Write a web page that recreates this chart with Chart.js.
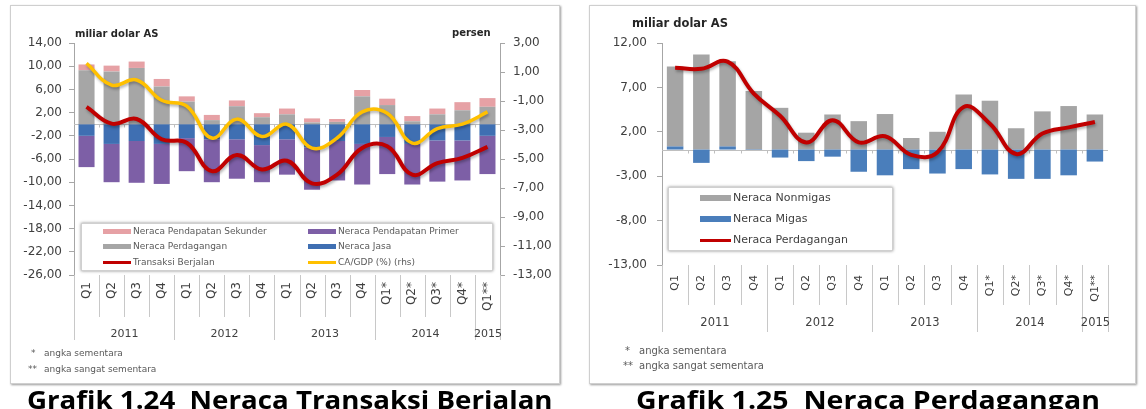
<!DOCTYPE html>
<html>
<head>
<meta charset="utf-8">
<script src="https://cdn.jsdelivr.net/npm/chart.js@4.4.1/dist/chart.umd.min.js"></script>
<style>
  body { margin: 0; width: 1146px; height: 409px; overflow: hidden; background: #fff; position: relative; font-family: 'DejaVu Sans', sans-serif; }
  .frame { position: absolute; border: 1px solid #cfcfcf; box-shadow: 1px 1px 2px #9a9a9a; background: #fff; }
  canvas { position: absolute; }
  .unit { position: absolute; font-weight: bold; color: #262626; white-space: nowrap; }
  .legend { position: absolute; border: 1px solid #d0d0d0; box-shadow: 0 0 3px #8c8c8c; background: #fff; }
  .sw { position: absolute; }
  .item { position: absolute; white-space: nowrap; }
  .note { position: absolute; color: #595959; white-space: nowrap; }
  .title { position: absolute; font-family: 'Open Sans', sans-serif; font-weight: bold; font-size: 25px; line-height: 25px; color: #000; white-space: nowrap; transform-origin: 0 0; }
</style>
</head>
<body>

<div class="frame" style="left:10px; top:5px; width:548px; height:377px;"></div>
<div class="frame" style="left:589px; top:5px; width:545px; height:377px;"></div>

<canvas id="grafik124" width="550" height="379" style="left:10px; top:5px;"></canvas>
<canvas id="grafik125" width="547" height="379" style="left:589px; top:5px;"></canvas>

<div class="unit" style="left:75px; top:28px; font-size:10px; line-height:12px;">miliar dolar AS</div>
<div class="unit" style="left:452px; top:27px; font-size:10px; line-height:12px;">persen</div>
<div class="unit" style="left:632px; top:16px; font-size:11.5px; line-height:14px;">miliar dolar AS</div>

<div class="legend" id="legenda124" style="left:81px; top:223px; width:410px; height:46px;"></div>
<div class="legend" id="legenda125" style="left:668px; top:187px; width:223px; height:62px;"></div>

<div class="note" style="left:31px; top:348px; font-size:9px; line-height:11px;">*</div>
<div class="note" style="left:44px; top:348px; font-size:9px; line-height:11px;">angka sementara</div>
<div class="note" style="left:28px; top:364px; font-size:9px; line-height:11px;">**</div>
<div class="note" style="left:44px; top:364px; font-size:9px; line-height:11px;">angka sangat sementara</div>

<div class="note" style="left:625px; top:345px; font-size:10px; line-height:12px;">*</div>
<div class="note" style="left:639px; top:345px; font-size:10px; line-height:12px;">angka sementara</div>
<div class="note" style="left:623px; top:360px; font-size:10px; line-height:12px;">**</div>
<div class="note" style="left:639px; top:360px; font-size:10px; line-height:12px;">angka sangat sementara</div>

<div class="title" data-w="526" style="left:27px; top:387px;">Grafik 1.24&nbsp;&nbsp;Neraca Transaksi Berjalan</div>
<div class="title" data-w="464" style="left:636px; top:387px;">Grafik 1.25&nbsp;&nbsp;Neraca Perdagangan</div>

<script>
// kategori
const kuartal = ['Q1', 'Q2', 'Q3', 'Q4', 'Q1', 'Q2', 'Q3', 'Q4', 'Q1', 'Q2', 'Q3', 'Q4', 'Q1*', 'Q2*', 'Q3*', 'Q4*', 'Q1**'];
const tahun = ['2011', '2012', '2013', '2014', '2015'];
const jumlahKuartal = [4, 4, 4, 4, 1];

// Grafik 1.24 (miliar dolar AS, CA/GDP dalam persen)
const pendapatanSekunder = [1.0, 1.0, 1.1, 1.3, 0.9, 0.9, 1.0, 0.7, 1.0, 0.7, 0.5, 1.1, 1.1, 0.9, 1.0, 1.4, 1.5];
const perdagangan = [9.3, 9.1, 9.7, 6.5, 3.9, 0.7, 3.1, 1.2, 1.7, 0.3, 0.4, 4.8, 3.3, 0.5, 1.7, 2.4, 3.0];
const jasa = [-2.0, -3.4, -2.9, -3.4, -2.4, -2.6, -2.6, -3.6, -2.6, -4.0, -2.9, -3.4, -2.2, -3.4, -2.8, -2.8, -2.0];
const pendapatanPrimer = [-5.4, -6.6, -7.2, -6.9, -5.7, -7.4, -6.8, -6.4, -6.1, -7.3, -6.8, -7.0, -6.4, -7.0, -7.1, -6.9, -6.6];
const transaksiBerjalan = [3.0, 0.1, 0.9, -2.6, -3.2, -8.1, -5.3, -7.8, -6.3, -10.2, -8.7, -4.1, -3.8, -8.7, -6.7, -5.8, -3.9];
const caGdp = [1.6, 0.1, 0.45, -0.95, -1.35, -3.55, -2.25, -3.45, -2.6, -4.25, -3.55, -1.75, -1.85, -3.9, -2.9, -2.6, -1.75];

// Grafik 1.25 (miliar dolar AS)
const nonmigas = [9.0, 10.7, 9.6, 6.6, 4.7, 1.9, 3.95, 3.2, 4.0, 1.3, 2.0, 6.2, 5.5, 2.4, 4.3, 4.9, 3.95];
const migas = [0.35, -1.5, 0.35, -0.05, -0.9, -1.3, -0.8, -2.5, -2.9, -2.2, -2.7, -2.2, -2.8, -3.3, -3.3, -2.9, -1.35];
const neracaPerdagangan = [9.2, 9.1, 9.9, 6.3, 3.8, 0.8, 3.3, 0.8, 1.5, -0.6, -0.3, 4.8, 2.9, -0.5, 1.8, 2.5, 3.1];

const formatKoma = v => v.toFixed(2).replace('.', ',');
const warnaTeks = '#404040';
const warnaSumbu = '#a6a6a6';

// garis nol, pemisah kuartal dan label tahun
const pembagiKuartal = {
  id: 'pembagiKuartal',
  beforeDatasetsDraw(chart, args, opts) {
    const ctx = chart.ctx, sx = chart.scales.x, area = chart.chartArea;
    const y0 = Math.round(chart.scales.y.getPixelForValue(0)) + 0.5;
    const setengah = (sx.getPixelForValue(1) - sx.getPixelForValue(0)) / 2;
    ctx.save();
    ctx.strokeStyle = '#bfbfbf';
    ctx.lineWidth = 1;
    ctx.beginPath();
    ctx.moveTo(area.left, y0);
    ctx.lineTo(area.right, y0);
    for (let i = 1; i < kuartal.length; i++) {
      const px = Math.round(sx.getPixelForValue(i) - setengah) + 0.5;
      ctx.moveTo(px, y0);
      ctx.lineTo(px, y0 + 3);
    }
    ctx.stroke();
    ctx.restore();
  },
  afterDraw(chart, args, opts) {
    const ctx = chart.ctx, sx = chart.scales.x, bawah = chart.chartArea.bottom;
    const setengah = (sx.getPixelForValue(1) - sx.getPixelForValue(0)) / 2;
    const batas = i => Math.round(sx.getPixelForValue(i) - setengah) + 0.5;
    const awalGrup = [0];
    jumlahKuartal.forEach(n => awalGrup.push(awalGrup[awalGrup.length - 1] + n));

    ctx.save();
    ctx.strokeStyle = '#c8c8c8';
    ctx.lineWidth = 1;
    ctx.beginPath();
    for (let i = 0; i <= kuartal.length; i++) {
      const panjang = awalGrup.includes(i) ? opts.panjang : opts.pendek;
      ctx.moveTo(batas(i), bawah);
      ctx.lineTo(batas(i), bawah + panjang);
    }
    ctx.stroke();

    ctx.fillStyle = warnaTeks;
    ctx.font = opts.font;
    ctx.textAlign = 'center';
    ctx.textBaseline = 'middle';
    tahun.forEach((t, g) => {
      const tengah = (batas(awalGrup[g]) + batas(awalGrup[g + 1])) / 2;
      ctx.fillText(t, tengah, bawah + opts.tahunY);
    });
    ctx.restore();
  }
};

// bayangan halus di bawah garis
const bayanganGaris = {
  id: 'bayanganGaris',
  beforeDatasetDraw(chart, args) {
    if (args.meta.type !== 'line') return;
    const ctx = chart.ctx;
    ctx.save();
    ctx.shadowColor = 'rgba(0,0,0,0.3)';
    ctx.shadowBlur = 3;
    ctx.shadowOffsetX = 1;
    ctx.shadowOffsetY = 2;
  },
  afterDatasetDraw(chart, args) {
    if (args.meta.type === 'line') chart.ctx.restore();
  }
};

const garis = (label, data, warna, tebal, sumbu) => ({
  type: 'line', label: label, data: data, borderColor: warna, borderWidth: tebal,
  yAxisID: sumbu, pointRadius: 0, tension: 0.42, fill: false, order: 0, stack: 'garis'
});
const batang = (label, data, warna, lebar) => ({
  type: 'bar', label: label, data: data, backgroundColor: warna,
  barPercentage: lebar, categoryPercentage: 1, order: 1, yAxisID: 'y'
});

const sumbuX = (padding, fontSize, tinggi) => ({
  type: 'category',
  stacked: true,
  offset: true,
  grid: { display: false, drawTicks: false },
  border: { display: false },
  ticks: {
    autoSkip: false, maxRotation: 90, minRotation: 90, padding: padding,
    color: warnaTeks, font: { family: 'DejaVu Sans', size: fontSize }
  },
  afterFit: s => { s.height = tinggi; }
});

const sumbuY = (posisi, min, max, langkah, lebar, padding, stacked) => ({
  position: posisi, min: min, max: max, stacked: stacked,
  grid: { drawOnChartArea: false, drawTicks: true, tickLength: 5, tickColor: warnaSumbu },
  border: { display: true, color: warnaSumbu },
  ticks: {
    stepSize: langkah, padding: padding, color: warnaTeks,
    font: { family: 'DejaVu Sans', size: 12 },
    callback: v => formatKoma(v)
  },
  afterFit: s => { s.width = lebar; }
});

new Chart(document.getElementById('grafik124').getContext('2d'), {
  data: {
    labels: kuartal,
    datasets: [
      garis('Transaksi Berjalan', transaksiBerjalan, '#c00000', 4, 'y'),
      garis('CA/GDP (%) (rhs)', caGdp, '#ffc000', 3.5, 'y1'),
      batang('Neraca Perdagangan', perdagangan, '#a6a6a6', 0.64),
      batang('Neraca Pendapatan Sekunder', pendapatanSekunder, '#e6a1a5', 0.64),
      batang('Neraca Jasa', jasa, '#3f6fb2', 0.64),
      batang('Neraca Pendapatan Primer', pendapatanPrimer, '#7d5fa6', 0.64)
    ]
  },
  options: {
    responsive: false, animation: false, devicePixelRatio: 1, events: [],
    layout: { padding: { top: 38, left: 0, right: 0, bottom: 0 } },
    scales: {
      x: sumbuX(7, 12, 109),
      y: sumbuY('left', -26, 14, 4, 64, 7, true),
      y1: sumbuY('right', -13, 3, 2, 60, 8, false)
    },
    plugins: {
      legend: { display: false },
      tooltip: { enabled: false },
      pembagiKuartal: { pendek: 42, panjang: 65, tahunY: 59, font: '11px "DejaVu Sans"' }
    }
  },
  plugins: [pembagiKuartal, bayanganGaris]
});

new Chart(document.getElementById('grafik125').getContext('2d'), {
  data: {
    labels: kuartal,
    datasets: [
      garis('Neraca Perdagangan', neracaPerdagangan, '#c00000', 4, 'y'),
      batang('Neraca Migas', migas, '#4a7ebb', 0.63),
      batang('Neraca Nonmigas', nonmigas, '#a5a5a5', 0.63)
    ]
  },
  options: {
    responsive: false, animation: false, devicePixelRatio: 1, events: [],
    layout: { padding: { top: 38, left: 0, right: 28, bottom: 0 } },
    scales: {
      x: sumbuX(10, 11, 119),
      y: Object.assign(sumbuY('left', -13, 12, 5, 73, 10, true), {})
    },
    plugins: {
      legend: { display: false },
      tooltip: { enabled: false },
      pembagiKuartal: { pendek: 40, panjang: 67, tahunY: 58, font: '11.5px "DejaVu Sans"' }
    }
  },
  plugins: [pembagiKuartal, bayanganGaris]
});

// legenda
function buatLegenda(id, isi, ukuranFont, warna) {
  const kotak = document.getElementById(id);
  isi.forEach(item => {
    const tinggi = item.garis ? 3 : item.tebal;
    const sw = document.createElement('div');
    sw.className = 'sw';
    sw.style.left = item.x + 'px';
    sw.style.width = item.w + 'px';
    sw.style.top = (item.y - tinggi / 2) + 'px';
    sw.style.height = tinggi + 'px';
    sw.style.background = item.warna;
    kotak.appendChild(sw);

    const teks = document.createElement('div');
    teks.className = 'item';
    teks.textContent = item.label;
    teks.style.left = (item.x + item.w + 2) + 'px';
    teks.style.top = (item.y - ukuranFont * 0.65) + 'px';
    teks.style.fontSize = ukuranFont + 'px';
    teks.style.lineHeight = Math.round(ukuranFont * 1.3) + 'px';
    teks.style.color = warna;
    kotak.appendChild(teks);
  });
}

buatLegenda('legenda124', [
  { label: 'Neraca Pendapatan Sekunder', warna: '#e6a1a5', x: 21, y: 7, w: 28, tebal: 5 },
  { label: 'Neraca Perdagangan', warna: '#a6a6a6', x: 21, y: 22, w: 28, tebal: 5 },
  { label: 'Transaksi Berjalan', warna: '#c00000', x: 21, y: 38, w: 28, garis: true },
  { label: 'Neraca Pendapatan Primer', warna: '#7d5fa6', x: 226, y: 7, w: 28, tebal: 5 },
  { label: 'Neraca Jasa', warna: '#3f6fb2', x: 226, y: 22, w: 28, tebal: 5 },
  { label: 'CA/GDP (%) (rhs)', warna: '#ffc000', x: 226, y: 38, w: 28, garis: true }
], 9, '#595959');

buatLegenda('legenda125', [
  { label: 'Neraca Nonmigas', warna: '#a5a5a5', x: 31, y: 10, w: 31, tebal: 6 },
  { label: 'Neraca Migas', warna: '#4a7ebb', x: 31, y: 31, w: 31, tebal: 6 },
  { label: 'Neraca Perdagangan', warna: '#c00000', x: 31, y: 52, w: 31, garis: true }
], 11, '#404040');

// judul grafik dipaskan ke lebar aslinya
function paskanJudul() {
  document.querySelectorAll('.title').forEach(el => {
    el.style.transform = 'none';
    const w = el.offsetWidth;
    el.style.transform = 'scaleX(' + (el.dataset.w / w) + ')';
  });
}
paskanJudul();
if (document.fonts) document.fonts.ready.then(paskanJudul);
</script>
</body>
</html>
